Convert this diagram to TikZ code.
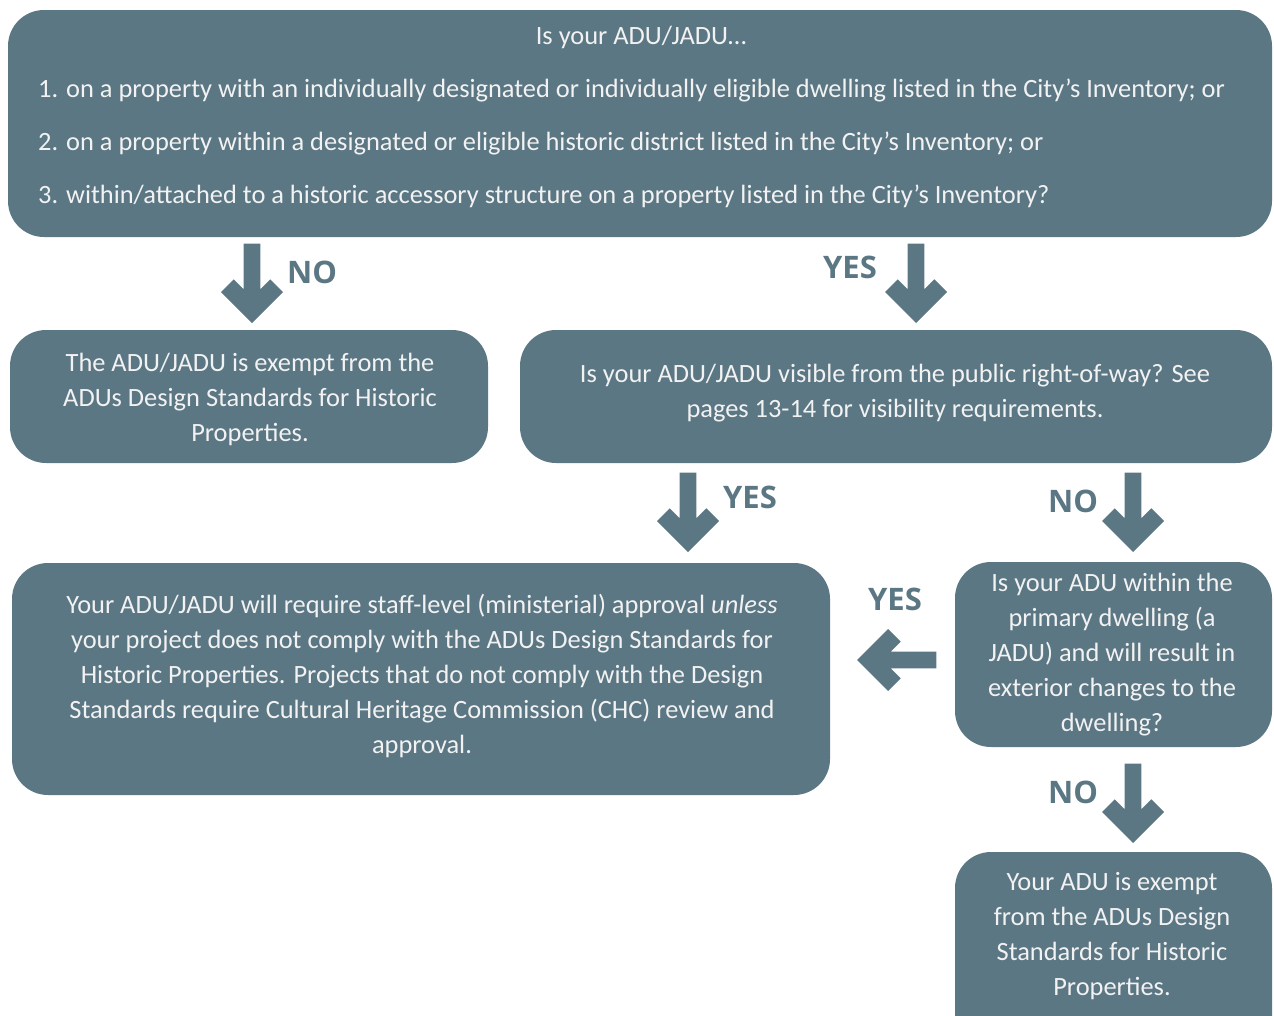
\documentclass[tikz,border=0pt]{standalone}
\usepackage{fontspec}
\setmainfont{Carlito}
\newfontfamily\lblfont{Open Sans}
\definecolor{boxc}{HTML}{5B7784}
\definecolor{txtc}{HTML}{F2F2F2}
\tikzset{
  x=1pt,y=-1pt,
  flowbox/.style={fill=boxc, rounded corners=36pt, inner sep=0pt},
  boxtext/.style={text=txtc, font=\fontsize{26.4}{35}\selectfont, align=center, inner sep=0pt},
  toptext/.style={text=txtc, font=\fontsize{26.4}{30}\selectfont, inner sep=0pt, anchor=base west},
  lbl/.style={text=boxc, font=\lblfont\fontsize{31}{36}\selectfont\bfseries, inner sep=0pt},
  blockarrow/.pic={\fill[boxc] (0,0) -- (-31,-31) -- (-18.3,-43.7) -- (-8.3,-33.7) -- (-8.3,-79.4) -- (8.3,-79.4) -- (8.3,-33.7) -- (18.3,-43.7) -- (31,-31) -- cycle;}
}
\begin{document}
\begin{tikzpicture}
\useasboundingbox (0,0) rectangle (1274,1015);
\clip (0,0) rectangle (1274,1015);
% boxes
\node[flowbox, minimum width=1264pt, minimum height=227pt] (top) at (640,123.5) {};
\node[flowbox, minimum width=478pt, minimum height=133pt] (exempt) at (249,396.5) {};
\node[flowbox, minimum width=752pt, minimum height=133pt] (visible) at (896,396.5) {};
\node[flowbox, minimum width=818pt, minimum height=232pt] (staff) at (421,679) {};
\node[flowbox, minimum width=317pt, minimum height=185pt] (within) at (1113.5,654.5) {};
\node[flowbox, minimum width=317pt, minimum height=200pt] (exempt2) at (1113.5,952) {};
% top text
\node[text=txtc, font=\fontsize{26.4}{30}\selectfont, inner sep=0pt, anchor=base] (t0) at (641,44) {Is your ADU/JADU…};
\node[toptext] (t1) at (38,97) {1. on a property with an individually designated or individually eligible dwelling listed in the City’s Inventory; or};
\node[toptext] (t2) at (38,150) {2. on a property within a designated or eligible historic district listed in the City’s Inventory; or};
\node[toptext] (t3) at (38,203) {3. within/attached to a historic accessory structure on a property listed in the City’s Inventory?};
% box texts
\node[boxtext] (exemptT) at (250,399) {The ADU/JADU is exempt from the\\ADUs Design Standards for Historic\\Properties.};
\node[boxtext] (visibleT) at (895,393.5) {Is your ADU/JADU visible from the public right-of-way? See\\pages 13-14 for visibility requirements.};
\node[boxtext] (staffT) at (422,675.5) {Your ADU/JADU will require staff-level (ministerial) approval \textit{unless}\\your project does not comply with the ADUs Design Standards for\\Historic Properties. Projects that do not comply with the Design\\Standards require Cultural Heritage Commission (CHC) review and\\approval.};
\node[boxtext] (withinT) at (1112,655) {Is your ADU within the\\primary dwelling (a\\JADU) and will result in\\exterior changes to the\\dwelling?};
\node[boxtext] (exempt2T) at (1112,936) {Your ADU is exempt\\from the ADUs Design\\Standards for Historic\\Properties.};
% arrows
\pic (a1) at (252,323) {blockarrow};
\pic (a2) at (916,323) {blockarrow};
\pic (a3) at (688,552) {blockarrow};
\pic (a4) at (1133,552) {blockarrow};
\pic[rotate=-90] (a5) at (857,660) {blockarrow};
\pic (a6) at (1133,843) {blockarrow};
% labels
\node[lbl] (l1) at (312,272) {NO};
\node[lbl] (l2) at (850,267) {YES};
\node[lbl] (l3) at (750,497) {YES};
\node[lbl] (l4) at (1073,501) {NO};
\node[lbl] (l5) at (895,599) {YES};
\node[lbl] (l6) at (1073,792) {NO};
\end{tikzpicture}
\end{document}
